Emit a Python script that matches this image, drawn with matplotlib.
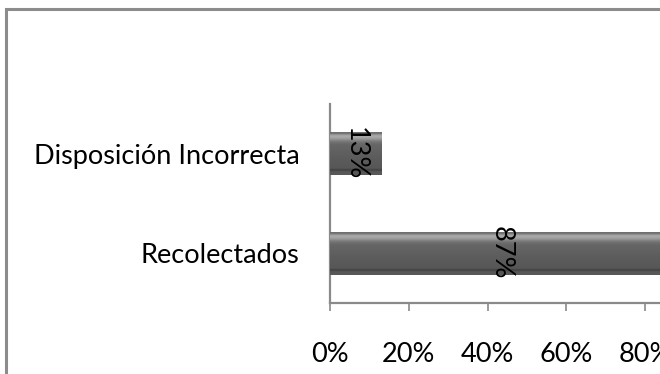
import numpy as np
import matplotlib
matplotlib.use("Agg")
import matplotlib.pyplot as plt
from matplotlib.patches import Rectangle

plt.rcParams['font.family'] = ['Lato', 'DejaVu Sans']

categories = ["Recolectados", "Disposición Incorrecta"]
values = [87, 13]
value_labels = ["87%", "13%"]
x_ticks = [0, 20, 40, 60, 80, 100]
x_tick_labels = ["0%", "20%", "40%", "60%", "80%", "100%"]

W, H, DPI = 660, 374, 100
FS = 19.5
fig = plt.figure(figsize=(W / DPI, H / DPI), dpi=DPI)
fig.patch.set_facecolor("white")

# outer chart frame (runs off the right and bottom edges)
frame = Rectangle((5.5 / W, -0.2), 1.2, 1.2 - 8.5 / H,
                  transform=fig.transFigure, fill=False,
                  edgecolor="#8c8c8c", linewidth=2.2, clip_on=False)
fig.patches.append(frame)

ax = fig.add_axes([330 / W, 1 - 303 / H, 394 / W, 199 / H])
ax.set_facecolor("none")

bar_h = 0.43
ypos = np.arange(len(categories))
bars = ax.barh(ypos, values, height=bar_h, color="#5a5a5a", linewidth=0, zorder=2)

# vertical shading of each bar: dark rim, light highlight near top, dark line near bottom
stops_f = [0.00, 0.04, 0.06, 0.10, 0.15, 0.20, 0.24, 0.30, 0.60, 0.85, 0.87, 0.90, 0.92, 1.00]
stops_g = [0.43, 0.46, 0.62, 0.67, 0.61, 0.50, 0.44, 0.40, 0.36, 0.34, 0.27, 0.27, 0.34, 0.35]
fr = np.linspace(0, 1, 120)
shade = np.interp(fr, stops_f, stops_g)
img = np.repeat(shade[:, None, None], 3, axis=2)

for bar in bars:
    x0, y0 = bar.get_x(), bar.get_y()
    w, h = bar.get_width(), bar.get_height()
    im = ax.imshow(img, extent=(x0, x0 + w, y0, y0 + h), origin="upper",
                   aspect="auto", interpolation="bilinear", zorder=3)
    im.set_clip_path(bar)

for b, lab in zip(bars, value_labels):
    ax.text(b.get_x() + b.get_width() / 2, b.get_y() + b.get_height() / 2, lab,
            rotation=-90, ha="center", va="center", fontsize=FS,
            color="black", zorder=4)

ax.set_xlim(0, 100)
ax.set_ylim(-0.5, len(categories) - 0.5)

ax.set_xticks(x_ticks)
ax.set_xticklabels(x_tick_labels, fontsize=FS)
ax.set_yticks(ypos)
ax.set_yticklabels(categories, fontsize=FS)

for s in ["top", "right"]:
    ax.spines[s].set_visible(False)
for s in ["left", "bottom"]:
    ax.spines[s].set_color("#8a8a8a")
    ax.spines[s].set_linewidth(1.6)

ax.tick_params(axis="x", direction="out", length=6, width=1.2, color="#8a8a8a",
               pad=22, labelcolor="black")
ax.tick_params(axis="y", length=0, pad=22, labelcolor="black")

fig.savefig("out.png", dpi=DPI)
